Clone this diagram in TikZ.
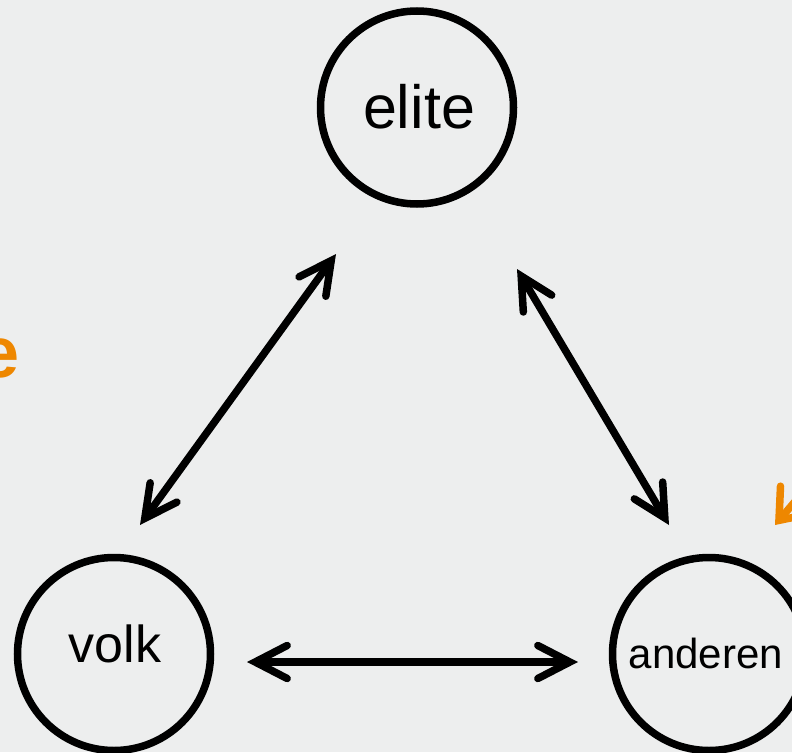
\documentclass[tikz,border=0pt]{standalone}
\usepackage{fontspec}
\setmainfont{Liberation Sans}
\usetikzlibrary{arrows.meta}
\definecolor{bg}{RGB}{237,238,238}
\definecolor{accent}{RGB}{238,135,0}
\begin{document}
\begin{tikzpicture}[x=1pt,y=-1pt,
  actor/.style={circle,draw=black,line width=7.5pt,minimum size=193pt,inner sep=0pt},
  word/.style={anchor=base,inner sep=0pt,text=black},
  barb/.tip={Straight Barb[length=32pt,width=33pt,line cap=round,line join=miter]},
  link/.style={line width=7.5pt,draw=black,{barb}-{barb}},
  pointer/.style={line width=7.5pt,draw=accent,-{Straight Barb[length=27pt,width=42pt,line cap=round,line join=miter]}},
]
\useasboundingbox (0,0) rectangle (792,752);
\clip (0,0) rectangle (792,752);
\fill[bg] (0,0) rectangle (792,752);

\node[actor] (elite) at (417,107.5) {};
\node[actor] (volk) at (114,654) {};
\node[actor] (anderen) at (709,654) {};

\node[word,font=\fontsize{61}{61}\selectfont] (elitetext) at (419,128) {elite};
\node[word,font=\fontsize{52}{52}\selectfont] (volktext) at (115,662) {volk};
\node[word,font=\fontsize{42}{42}\selectfont] (anderentext) at (706,668) {anderen};

\node[anchor=base east,inner sep=0pt,text=accent,font=\bfseries\fontsize{72}{72}\selectfont] (cut) at (20,377) {e};

\coordinate (ve1) at (140,525);
\coordinate (ve2) at (336,254);
\coordinate (ea1) at (517,269);
\coordinate (ea2) at (669,525);
\coordinate (va1) at (247,662);
\coordinate (va2) at (578,662);
\coordinate (ptail) at (827,464);
\coordinate (ptip) at (775,525);

\draw[link] (ve1) -- (ve2);
\draw[link] (ea1) -- (ea2);
\draw[link] (va1) -- (va2);
\draw[pointer] (ptail) -- (ptip);
\end{tikzpicture}
\end{document}
